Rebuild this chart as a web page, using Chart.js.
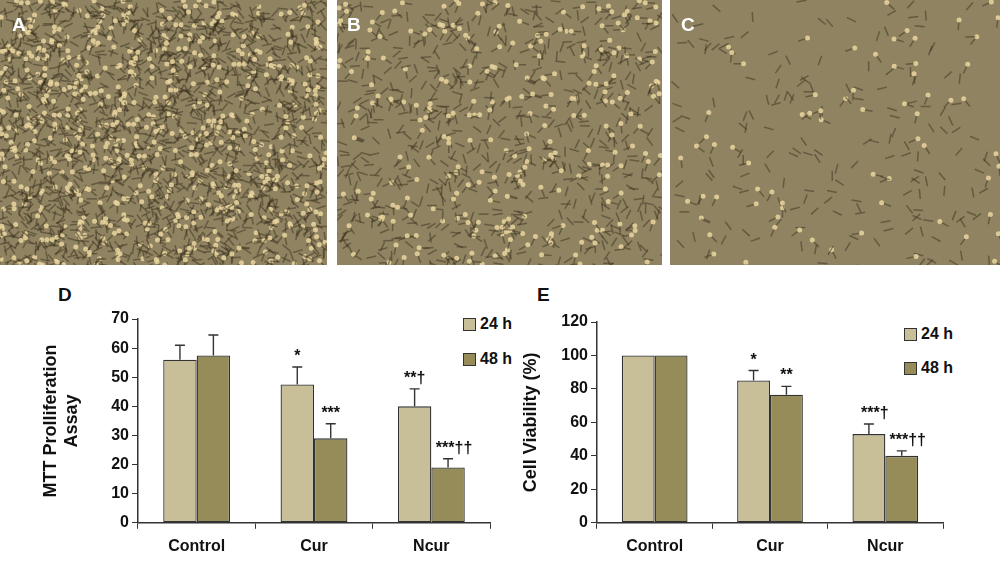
<!DOCTYPE html>
<html><head><meta charset="utf-8">
<script src="https://cdn.jsdelivr.net/npm/chart.js@4"></script>
<style>
body{margin:0;width:1000px;height:564px;background:#fff;position:relative;overflow:hidden;font-family:"Liberation Sans",Arial,sans-serif;font-weight:bold}
.ph{position:absolute;top:0;height:265px}
.lab{position:absolute;font-size:19px;color:#fff}
.pl{position:absolute;font-size:19px;color:#111}
.lg{position:absolute;font-size:16px;color:#111;display:flex;align-items:center}
.lg span{display:inline-block;width:11px;height:11px;border:1px solid #333;margin-right:4px}
</style></head><body>
<canvas id="pA" class="ph" style="left:0" width="327" height="265"></canvas>
<canvas id="pB" class="ph" style="left:337px" width="325" height="265"></canvas>
<canvas id="pC" class="ph" style="left:670px" width="330" height="265"></canvas>
<div class="lab" style="left:12px;top:14px">A</div>
<div class="lab" style="left:347px;top:14px">B</div>
<div class="lab" style="left:681px;top:14px">C</div>
<div class="pl" style="left:58px;top:284px">D</div>
<div class="pl" style="left:537px;top:284px">E</div>
<div class="lg" style="left:463px;top:315px"><span style="background:#c8bf98"></span>24 h</div>
<div class="lg" style="left:463px;top:350px"><span style="background:#958c5a"></span>48 h</div>
<div class="lg" style="left:904px;top:325px"><span style="background:#c8bf98"></span>24 h</div>
<div class="lg" style="left:904px;top:359px"><span style="background:#958c5a"></span>48 h</div>
<div style="position:absolute;left:40px;top:302px;width:460px;height:262px"><canvas id="cD"></canvas></div>
<div style="position:absolute;left:520px;top:302px;width:433px;height:262px"><canvas id="cE"></canvas></div>
<script>
const categories=["Control","Cur","Ncur"];
const mtt24=[56,47.5,40], mtt24Err=[5,6,6];
const mtt48=[57.5,29,19], mtt48Err=[7,5,3];
const mttMarks24=["","*","**†"], mttMarks48=["","***","***††"];
const via24=[100,85,53], via24Err=[0,6,6];
const via48=[100,76.5,40], via48Err=[0,5,3];
const viaMarks24=["","*","***†"], viaMarks48=["","**","***††"];

function photo(id,density,seed){
  const c=document.getElementById(id),x=c.getContext('2d');
  x.fillStyle='#8f8362';x.fillRect(0,0,c.width,c.height);
  let s=seed;const r=()=>{s=(s*9301+49297)%233280;return s/233280;};
  for(let i=0;i<density;i++){
    const px=r()*c.width,py=r()*c.height,a=r()*Math.PI;
    x.strokeStyle='rgba(60,50,30,0.5)';x.lineWidth=1.5;
    x.beginPath();x.moveTo(px,py);x.lineTo(px+Math.cos(a)*10,py+Math.sin(a)*10);x.stroke();
    if(r()<0.3){x.fillStyle='rgba(235,215,160,0.85)';x.beginPath();x.arc(px,py,2.5,0,7);x.fill();}
  }
}
photo('pA',2200,7);photo('pB',900,11);photo('pC',250,13);

const errPlugin={id:'err',afterDatasetsDraw(ch){
  const ctx=ch.ctx,y=ch.scales.y;
  ch.data.datasets.forEach((ds,di)=>{
    const meta=ch.getDatasetMeta(di);
    meta.data.forEach((b,i)=>{
      const v=ds.data[i],e=ds.err[i];
      const top=y.getPixelForValue(v+e);
      ctx.save();ctx.strokeStyle='#333';ctx.lineWidth=1.4;
      if(e>0){ctx.beginPath();ctx.moveTo(b.x,b.y);ctx.lineTo(b.x,top);ctx.moveTo(b.x-5,top);ctx.lineTo(b.x+5,top);ctx.stroke();}
      ctx.fillStyle='#111';ctx.font='bold 16px "Liberation Sans"';ctx.textAlign='center';
      ctx.fillText(ds.marks[i],b.x+(ds.marks[i].length>3?6:0),top-6);
      ctx.restore();
    });
  });
}};
function mk(id,d24,e24,m24,d48,e48,m48,max,step,title,left,top){
  new Chart(document.getElementById(id),{type:'bar',
    data:{labels:categories,datasets:[
      {data:d24,err:e24,marks:m24,backgroundColor:'#c8bf98',borderColor:'#333',borderWidth:1.3,borderSkipped:false},
      {data:d48,err:e48,marks:m48,backgroundColor:'#958c5a',borderColor:'#333',borderWidth:1.3,borderSkipped:false}]},
    options:{responsive:true,maintainAspectRatio:false,animation:false,
      layout:{padding:{top:top,right:10,bottom:0}},
      categoryPercentage:0.57,barPercentage:1,
      plugins:{legend:{display:false},tooltip:{enabled:false}},
      scales:{
        x:{grid:{display:true,drawOnChartArea:false,offset:true,color:'#333',tickLength:6},border:{color:'#333',width:1.5},
           ticks:{color:'#111',font:{family:'Liberation Sans',weight:'bold',size:16},padding:8}},
        y:{min:0,max:max,ticks:{stepSize:step,color:'#111',font:{family:'Liberation Sans',weight:'bold',size:16}},
           grid:{display:true,drawOnChartArea:false,color:'#333',tickLength:6},border:{color:'#333',width:1.5},
           afterFit(s){s.width=left;},
           title:{display:true,text:title,color:'#111',font:{family:'Liberation Sans',weight:'bold',size:18},padding:0}}
      }},plugins:[errPlugin]});
}
mk('cD',mtt24,mtt24Err,mttMarks24,mtt48,mtt48Err,mttMarks48,70,10,['MTT Prolliferation','Assay'],98,17);
mk('cE',via24,via24Err,viaMarks24,via48,via48Err,viaMarks48,120,20,'Cell Viability (%)',77,20);
</script></body></html>
